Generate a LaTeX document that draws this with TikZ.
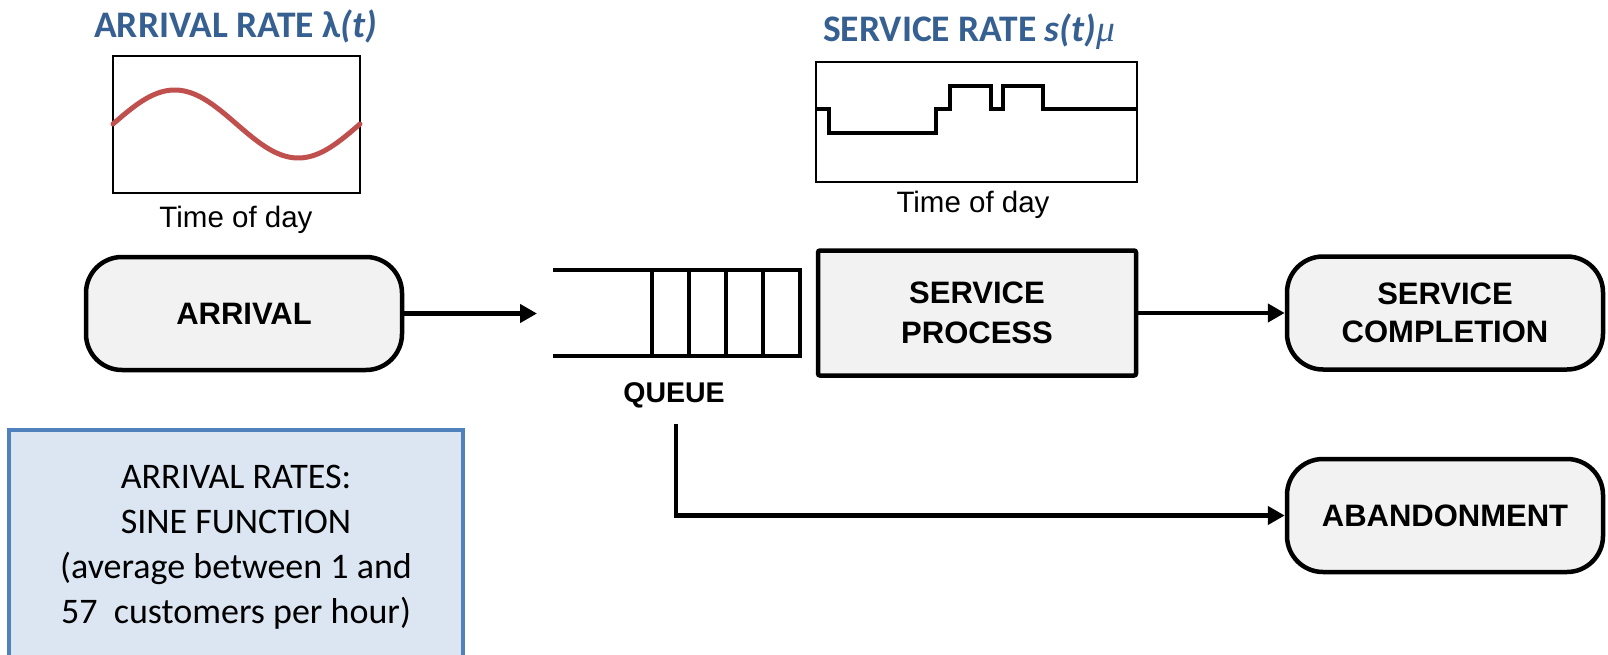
\documentclass[tikz,border=0pt]{standalone}
\usepackage{fontspec}
\setmainfont{Liberation Sans}
\newfontfamily\calib{Carlito}
\newfontfamily\lserif{Liberation Serif}
\usetikzlibrary{arrows.meta}

\definecolor{titleblue}{HTML}{376092}
\definecolor{boxgray}{HTML}{F2F2F2}
\definecolor{noteedge}{HTML}{4F81BD}
\definecolor{notefill}{HTML}{DCE6F2}
\definecolor{sinered}{HTML}{C0504D}

\tikzset{
  termbox/.style={draw, line width=4.5pt, fill=boxgray, rounded corners=36pt,
    minimum width=316pt, minimum height=113pt, inner sep=0pt, align=center,
    font=\fontsize{31}{38}\selectfont\bfseries},
  procbox/.style={draw, line width=4.5pt, fill=boxgray, rounded corners=2pt,
    minimum width=318pt, minimum height=125pt, inner sep=0pt, align=center,
    font=\fontsize{31}{40}\selectfont\bfseries},
  flow/.style={line width=4.5pt, -{Triangle[length=17pt,width=18pt]}},
  graphframe/.style={line width=1.5pt},
  steptrace/.style={line width=4pt},
  sinetrace/.style={line width=5pt, sinered, line cap=round},
  axislabel/.style={font=\fontsize{29.5}{34}\selectfont, anchor=base, inner sep=0pt},
  ratetitle/.style={font=\calib\fontsize{37.5}{42}\selectfont\bfseries, text=titleblue,
    anchor=base west, inner sep=0pt},
  queuewall/.style={line width=4.5pt},
  notetext/.style={font=\calib\fontsize{36}{45}\selectfont, align=center, inner sep=0pt}
}

\begin{document}
\begin{tikzpicture}[x=1pt,y=-1pt]
\useasboundingbox (0,0) rectangle (1608,655);
\clip (0,0) rectangle (1608,655);

% rate titles
\node[ratetitle] (lamtitle) at (94,38) {ARRIVAL RATE λ\textit{(t)}};
\node[ratetitle] (mutitle) at (823,42) {SERVICE RATE \textit{s(t)}{\lserif\mdseries\itshape μ}};

% arrival-rate graph
\draw[graphframe] (113,56) rectangle (360,193);
\draw[sinetrace] plot[domain=0:360, samples=120] ({113+\x/360*247}, {124-34*sin(\x)});
\node[axislabel] (lamaxis) at (236,227) {Time of day};

% service-rate graph
\draw[graphframe] (816,62) rectangle (1137,182);
\draw[steptrace] (816,109) -- (829,109) -- (829,133) -- (936,133) -- (936,109)
  -- (950,109) -- (950,86) -- (991,86) -- (991,109) -- (1003,109) -- (1003,86)
  -- (1043,86) -- (1043,109) -- (1138,109);
\node[axislabel] (muaxis) at (973,212) {Time of day};

% process blocks
\node[termbox] (arrival) at (244,313.5) {ARRIVAL};
\node[procbox] (service) at (977,313) {SERVICE\\PROCESS};
\node[termbox] (done) at (1445,313) {SERVICE\\COMPLETION};
\node[termbox] (abandon) at (1445,515.5) {ABANDONMENT};

% queue buffer
\draw[queuewall] (553,270) -- (800,270) -- (800,356) -- (553,356);
\foreach \qx in {652,689,726,763} \draw[queuewall] (\qx,270) -- (\qx,356);
\node[font=\fontsize{28.5}{32}\selectfont\bfseries, inner sep=0pt] (qlabel) at (674,395) {QUEUE};
\coordinate (qin) at (537,313.5);
\coordinate (qdrop) at (676,424);

% flows
\draw[flow] (arrival.east) -- (qin);
\draw[flow] (service.east) -- (done.west);
\draw[flow, rounded corners=0pt] (qdrop) |- (abandon.west);

% note on arrival rates
\draw[line width=4pt, draw=noteedge, fill=notefill] (9,430) rectangle (463,720);
\node[notetext, anchor=base] (note) at (236,623)
  {ARRIVAL RATES:\\SINE FUNCTION\\(average between 1 and\\57\ \ customers per hour)};
\end{tikzpicture}
\end{document}
